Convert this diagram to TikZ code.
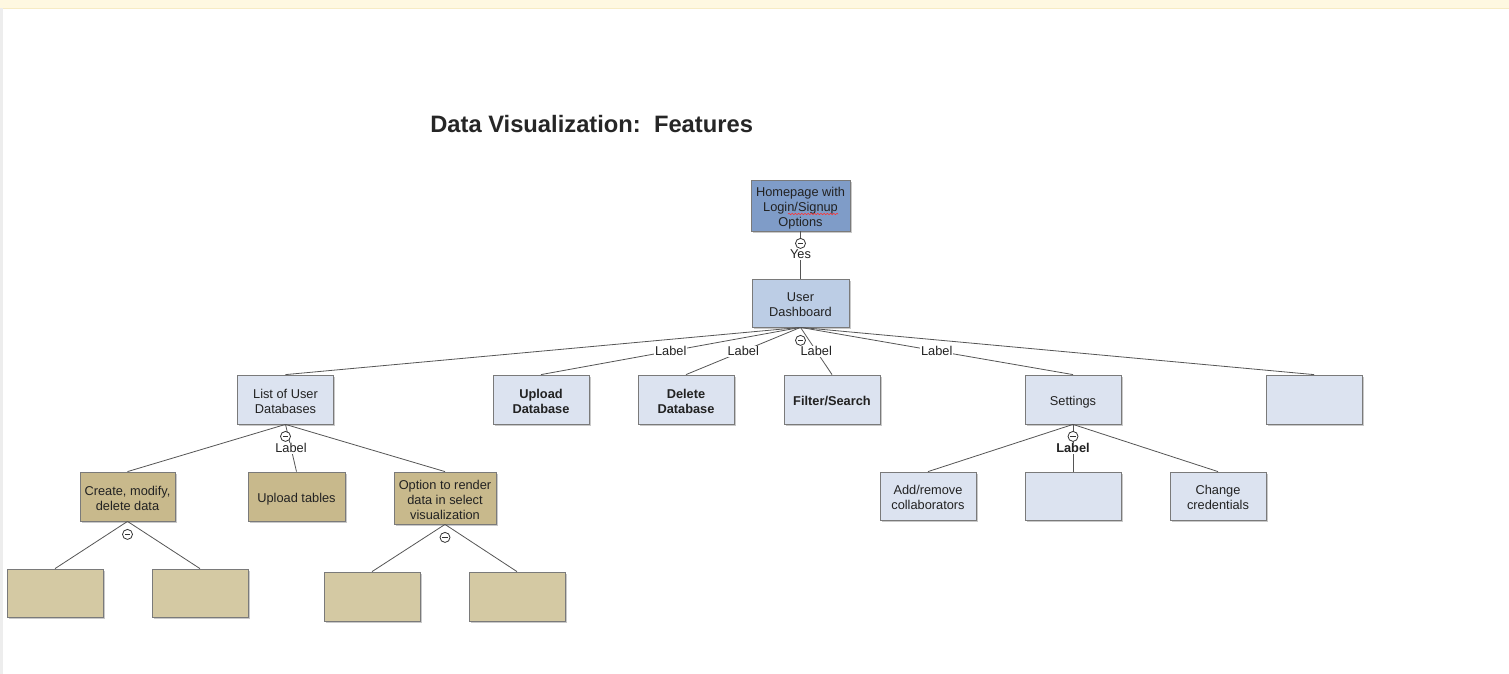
\documentclass[tikz,border=0pt]{standalone}
\usepackage{fontspec}
\setmainfont{Liberation Sans}
\usetikzlibrary{shadows,calc,decorations.pathmorphing}
\definecolor{homeblue}{HTML}{7F9CC8}
\definecolor{dashblue}{HTML}{BCCDE5}
\definecolor{lightblue}{HTML}{DCE3F0}
\definecolor{tan}{HTML}{C8B98C}
\definecolor{lighttan}{HTML}{D4C9A3}
\definecolor{edgegray}{HTML}{555555}
\definecolor{bordergray}{HTML}{7A7A7A}
\definecolor{txt}{HTML}{222222}
\definecolor{topstrip}{HTML}{FEF8E1}
\definecolor{topline}{HTML}{F6EBC4}
\newcommand\bxl[1]{\rule[-0.7pt]{0pt}{10.5pt}\smash{#1}}
\begin{document}
\begin{tikzpicture}[x=0.75pt,y=-0.75pt,
  box/.style={draw=bordergray, line width=0.6pt, align=center, text=txt,
    font=\fontsize{9.6}{11.25}\selectfont, inner sep=1pt,
    minimum width=72pt, minimum height=36.75pt,
    drop shadow={shadow xshift=1.2pt, shadow yshift=-1.2pt, opacity=0.35, fill=black!60}},
  boldbox/.style={box, font=\bfseries\fontsize{9.6}{11.25}\selectfont},
  conn/.style={draw=edgegray, line width=0.6pt},
  lbl/.style={fill=white, inner sep=0.6pt, text=txt, font=\fontsize{9.6}{11}\selectfont},
  cmin/.style={circle, draw=black!80, fill=white, line width=0.6pt, minimum size=7.5pt, inner sep=0pt,
    path picture={\draw[black!80, line width=0.6pt] ([xshift=-2pt]path picture bounding box.center) -- ([xshift=2pt]path picture bounding box.center);}}
]
\useasboundingbox (0,0) rectangle (1509,674);
\fill[white] (0,0) rectangle (1509,674);
\fill[topstrip] (0,0) rectangle (1509,8);
\draw[topline, line width=0.6pt] (0,8) -- (1509,8);
\fill[black!7] (0,8) rectangle (2.5,674);

\node[anchor=base west, inner sep=0pt, font=\bfseries\fontsize{17.8}{20}\selectfont, text=black!85] (title) at (430,132) {Data Visualization:\ \ Features};

% level 0/1
\node[box, fill=homeblue, minimum width=74.25pt, minimum height=38.25pt] (home) at (800.5,205.5) {\bxl{Homepage with}\\\bxl{Login/Signup}\\\bxl{Options}};
\draw[red!80, line width=0.45pt, decoration={snake, amplitude=0.5pt, segment length=2.4pt}, decorate] (788,214) -- (838,214);
\node[box, fill=dashblue, minimum width=72.75pt, minimum height=36pt] (dash) at (800.5,303) {\bxl{User}\\\bxl{Dashboard}};

% level 2
\node[box, fill=lightblue] (list) at (285.5,399.5) {\bxl{List of User}\\\bxl{Databases}};
\node[boldbox, fill=lightblue] (upl) at (541,399.5) {\bxl{Upload}\\\bxl{Database}};
\node[boldbox, fill=lightblue] (del) at (686,399.5) {\bxl{Delete}\\\bxl{Database}};
\node[boldbox, fill=lightblue] (filt) at (832,399.5) {\bxl{Filter/Search}};
\node[box, fill=lightblue] (sett) at (1073,399.5) {\bxl{Settings}};
\node[box, fill=lightblue] (emp) at (1314,399.5) {};

% level 3
\node[box, fill=tan, minimum width=71.25pt] (create) at (127.5,496.5) {\bxl{Create, modify,}\\\bxl{delete data}};
\node[box, fill=tan, minimum width=72.75pt] (uptab) at (296.5,496.5) {\bxl{Upload tables}};
\node[box, fill=tan, minimum width=76.5pt, minimum height=39pt] (option) at (445,498) {\bxl{Option to render}\\\bxl{data in select}\\\bxl{visualization}};
\node[box, fill=lightblue, minimum height=36pt] (addrem) at (928,496) {\bxl{Add/remove}\\\bxl{collaborators}};
\node[box, fill=lightblue, minimum height=36pt] (emp2) at (1073,496) {};
\node[box, fill=lightblue, minimum height=36pt] (change) at (1218,496) {\bxl{Change}\\\bxl{credentials}};

% level 4
\node[box, fill=lighttan, minimum height=36pt] (b1) at (55,593) {};
\node[box, fill=lighttan, minimum height=36pt] (b2) at (200,593) {};
\node[box, fill=lighttan] (b3) at (372,596.5) {};
\node[box, fill=lighttan] (b4) at (517,596.5) {};

% connectors
\draw[conn] (home.south) -- (dash.north) coordinate[pos=0.5] (yesmid);
\draw[conn] (dash.south) -- (list.north);
\draw[conn] (dash.south) -- (upl.north) coordinate[pos=0.5] (m1);
\draw[conn] (dash.south) -- (del.north) coordinate[pos=0.5] (m2);
\draw[conn] (dash.south) -- (filt.north) coordinate[pos=0.5] (m3);
\draw[conn] (dash.south) -- (sett.north) coordinate[pos=0.5] (m4);
\draw[conn] (dash.south) -- (emp.north);

\draw[conn] (list.south) -- (create.north);
\draw[conn] (list.south) -- (uptab.north) coordinate[pos=0.5] (m5);
\draw[conn] (list.south) -- (option.north);

\draw[conn] (create.south) -- (b1.north);
\draw[conn] (create.south) -- (b2.north);
\draw[conn] (option.south) -- (b3.north);
\draw[conn] (option.south) -- (b4.north);

\draw[conn] (sett.south) -- (addrem.north);
\draw[conn] (sett.south) -- (emp2.north) coordinate[pos=0.5] (m6);
\draw[conn] (sett.south) -- (change.north);

% collapse markers
\node[cmin] (c0) at ($(home.south)+(0,12)$) {};
\node[cmin] (c1) at ($(dash.south)+(0,13)$) {};
\node[cmin] (c2) at ($(list.south)+(0,12)$) {};
\node[cmin] (c3) at ($(create.south)+(0,13)$) {};
\node[cmin] (c4) at ($(option.south)+(0,13)$) {};
\node[cmin] (c5) at ($(sett.south)+(0,12)$) {};

% labels
\node[lbl] (lyes) at ($(yesmid)+(0,-0.5)$) {Yes};
\node[lbl] (l1) at (m1) {Label};
\node[lbl] (l2) at (m2) {Label};
\node[lbl] (l3) at (m3) {Label};
\node[lbl] (l4) at (m4) {Label};
\node[lbl] (l5) at (m5) {Label};
\node[lbl, font=\bfseries\fontsize{9.6}{11}\selectfont] (l6) at (m6) {Label};
\end{tikzpicture}
\end{document}
